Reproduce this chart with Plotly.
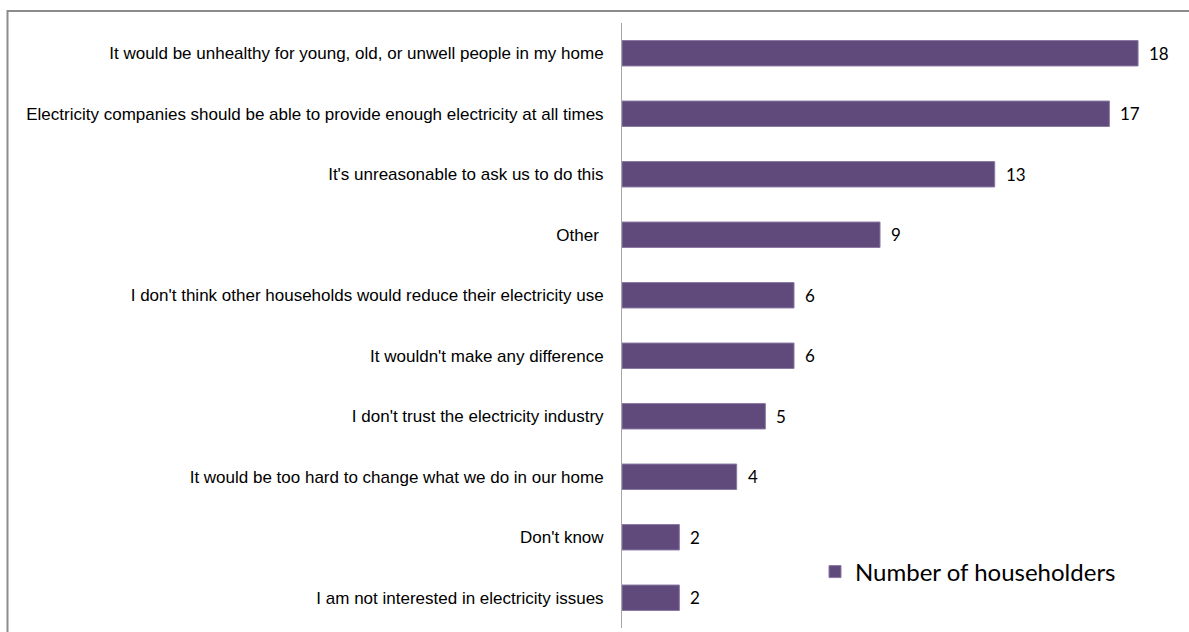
import plotly.graph_objects as go

# Reasons householders gave for not reducing electricity use
reasons = [
    "It would be unhealthy for young, old, or unwell people in my home",
    "Electricity companies should be able to provide enough electricity at all times",
    "It's unreasonable to ask us to do this",
    "Other ",
    "I don't think other households would reduce their electricity use",
    "It wouldn't make any difference",
    "I don't trust the electricity industry",
    "It would be too hard to change what we do in our home",
    "Don't know",
    "I am not interested in electricity issues",
]
householders = [18, 17, 13, 9, 6, 6, 5, 4, 2, 2]
series_name = "Number of householders"

W, H = 1189, 632
ML, MR, MT, MB = 622, 0, 23, 4
PW = W - ML - MR
PH = H - MT - MB
XMAX = PW / 28.67  # about 28.7 px per householder


def px_x(p):
    return (p - ML) / PW


def px_y(p):
    return 1 - (p - MT) / PH


fig = go.Figure()
fig.add_trace(go.Bar(
    x=householders,
    y=reasons,
    orientation="h",
    name=series_name,
    marker=dict(color="#604a7b", line=dict(color="#8a78a3", width=1)),
    showlegend=True,
))

annotations = [
    dict(x=v, y=r, xref="x", yref="y", text=str(v), showarrow=False,
         xanchor="left", xshift=9,
         font=dict(family="Lato, Carlito, sans-serif", size=17, color="#000000"))
    for r, v in zip(reasons, householders)
]

fig.update_layout(
    width=W, height=H,
    margin=dict(l=ML, r=MR, t=MT, b=MB),
    paper_bgcolor="white",
    plot_bgcolor="white",
    bargap=0.58,
    xaxis=dict(range=[0, XMAX], visible=False, showgrid=False, zeroline=False),
    yaxis=dict(
        autorange="reversed",
        showgrid=False, zeroline=False,
        showline=True, linecolor="#a6a6a6", linewidth=1,
        ticks="", ticklabelstandoff=14,
        tickfont=dict(family="Liberation Sans, Arial, sans-serif", size=17, color="#000000"),
    ),
    legend=dict(
        x=px_x(815), y=px_y(572), xanchor="left", yanchor="middle",
        bgcolor="rgba(0,0,0,0)",
        font=dict(family="Lato, Carlito, sans-serif", size=24, color="#000000"),
        itemwidth=30,
    ),
    annotations=annotations,
    shapes=[
        dict(type="rect", xref="paper", yref="paper",
             x0=px_x(7.5), x1=px_x(W + 5), y0=px_y(H + 5), y1=px_y(11),
             line=dict(color="#8c8c8c", width=2), fillcolor="rgba(0,0,0,0)",
             layer="below"),
    ],
)

fig.write_html("out.html")
